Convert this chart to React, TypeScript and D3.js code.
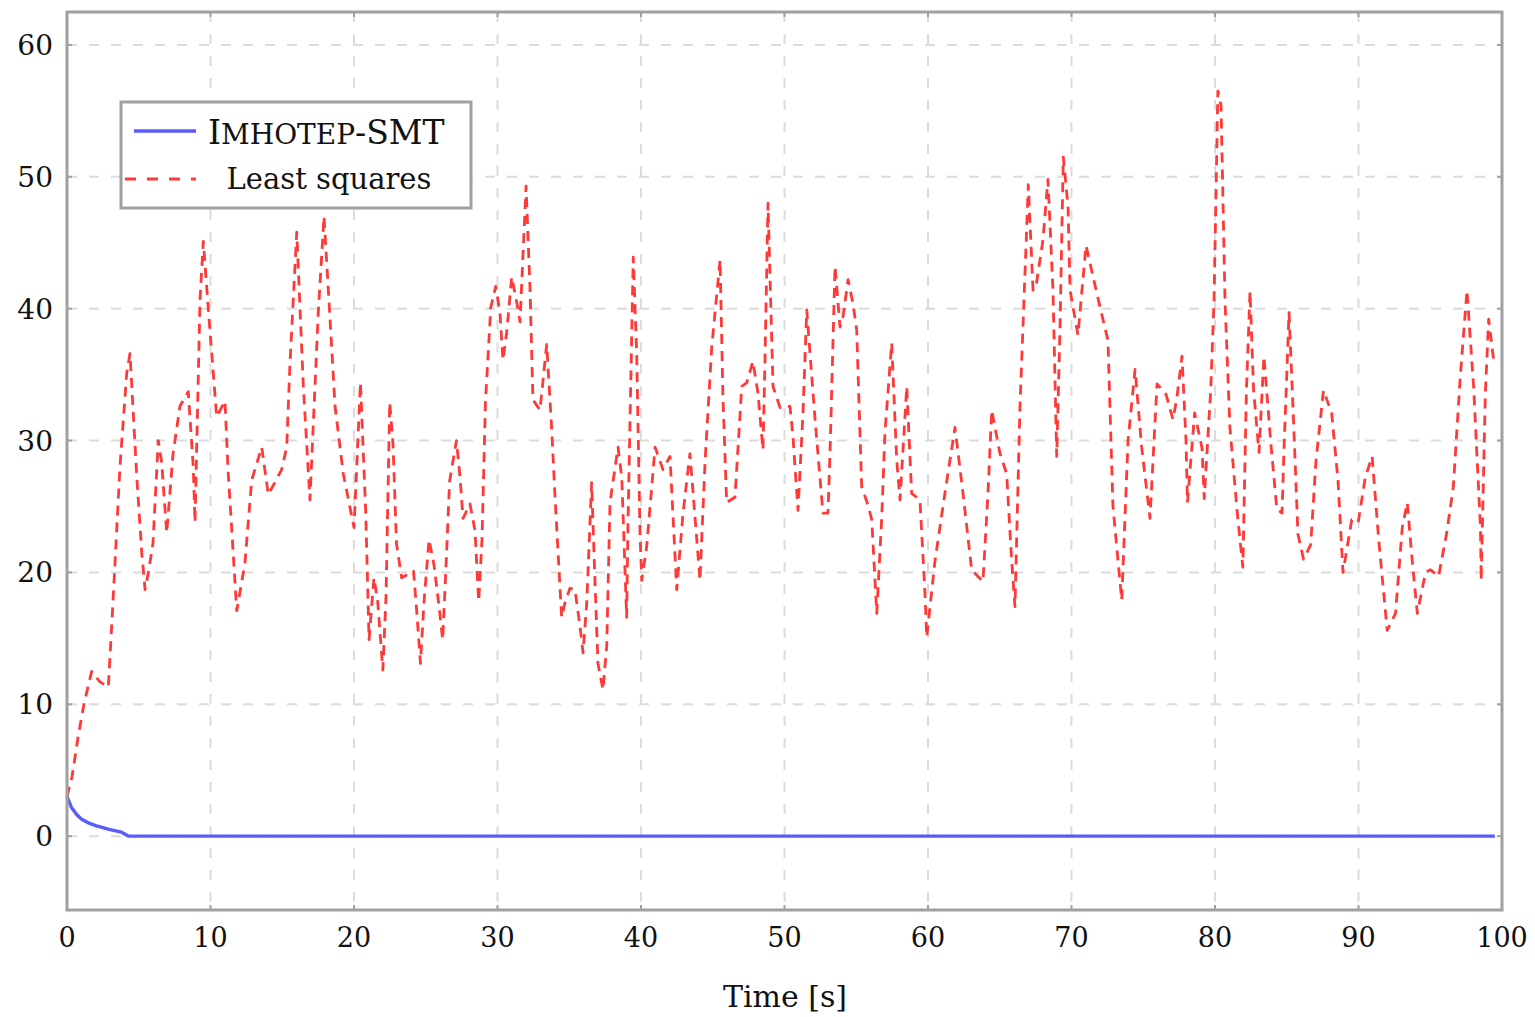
import React from "react";
import * as d3 from "d3";

const xTicks = [0, 10, 20, 30, 40, 50, 60, 70, 80, 90, 100];
const yTicks = [0, 10, 20, 30, 40, 50, 60];

const imhTime = [0, 0.3, 0.7, 1.0, 1.5, 2.0, 3.0, 3.8, 4.3, 99.5];
const imhValue = [3.0, 2.2, 1.6, 1.3, 1.0, 0.8, 0.5, 0.3, 0.0, 0.0];

const lsTime = [
  0, 0.35, 0.77, 1.18, 1.72, 2.3, 2.88, 3.21, 3.69, 4.16, 4.39, 4.86, 5.21, 5.44, 5.67, 5.99, 6.36, 6.6, 6.95, 7.39,
  7.87, 8.45, 8.8, 8.92, 9.27, 9.5, 9.97, 10.43, 11.01, 11.22, 11.83, 12.4, 12.87, 13.57, 14.03, 14.96, 15.31, 15.54, 16.01, 16.47,
  16.93, 17.51, 17.91, 18.33, 18.68, 19.25, 20.0, 20.45, 20.82, 21.05, 21.39, 21.65, 22.01, 22.23, 22.49, 22.72, 22.96, 23.32, 24.15, 24.39,
  24.63, 24.88, 25.23, 25.57, 25.94, 26.18, 26.41, 26.66, 27.14, 27.39, 27.6, 28.08, 28.43, 28.69, 28.92, 29.16, 29.53, 29.88, 30.17, 30.38,
  30.64, 30.99, 31.34, 31.57, 31.99, 32.26, 32.47, 32.96, 33.43, 33.78, 34.01, 34.47, 34.7, 35.05, 35.4, 35.75, 35.96, 36.22, 36.56, 36.79,
  37.0, 37.35, 37.61, 37.84, 38.4, 38.66, 39.0, 39.09, 39.46, 39.7, 39.93, 40.05, 40.4, 40.75, 40.98, 41.53, 42.02, 42.49, 42.93, 43.41,
  43.62, 44.11, 44.46, 44.93, 45.51, 45.71, 45.97, 46.55, 47.02, 47.37, 47.8, 48.15, 48.5, 48.64, 48.85, 49.2, 49.69, 50.38, 50.59, 50.94,
  51.29, 51.55, 51.78, 52.13, 52.68, 53.03, 53.17, 53.52, 53.87, 54.08, 54.43, 54.77, 55.03, 55.38, 55.82, 56.08, 56.43, 56.77, 57.0, 57.47,
  57.82, 58.05, 58.52, 58.86, 59.44, 59.79, 59.91, 60.49, 61.18, 61.88, 62.44, 63.04, 63.83, 64.18, 64.44, 65.02, 65.48, 65.83, 66.06, 66.41,
  66.76, 66.99, 67.32, 67.57, 68.01, 68.36, 68.71, 68.97, 69.2, 69.43, 69.76, 69.9, 70.45, 71.01, 71.76, 72.19, 72.54, 72.89, 73.5, 73.94,
  74.43, 74.89, 75.47, 75.96, 76.59, 77.07, 77.34, 77.7, 77.98, 78.08, 78.58, 79.1, 79.25, 79.7, 79.93, 80.2, 80.42, 80.7, 81.04, 81.57,
  81.94, 82.19, 82.44, 82.69, 83.07, 83.41, 83.9, 84.31, 84.67, 84.81, 85.16, 85.44, 85.78, 86.17, 86.67, 87.04, 87.56, 88.13, 88.57, 88.92,
  89.53, 89.98, 90.47, 90.95, 91.39, 92.0, 92.58, 93.05, 93.4, 93.74, 94.1, 94.67, 95.02, 95.58, 96.15, 96.61, 97.09, 97.56, 98.02, 98.5,
  98.55, 98.84, 99.07, 99.42,
];
const lsValue = [
  3.0, 4.5, 7.5, 10.0, 12.5, 11.7, 11.3, 17.9, 28.0, 35.1, 36.6, 27.3, 21.5, 18.7, 20.0, 22.2, 30.0, 28.3, 23.0, 29.0,
  32.6, 33.7, 28.0, 23.8, 40.7, 45.1, 38.2, 31.8, 33.0, 27.8, 17.1, 20.7, 27.0, 29.5, 25.9, 27.8, 29.5, 35.9, 45.8, 34.1,
  25.5, 39.7, 47.0, 39.2, 32.6, 27.5, 23.4, 34.4, 24.5, 14.9, 19.6, 17.8, 12.6, 18.1, 32.9, 29.7, 22.2, 19.6, 20.1, 16.8,
  13.1, 17.8, 22.5, 20.6, 17.3, 14.9, 20.4, 26.9, 30.0, 27.2, 24.1, 25.2, 23.2, 17.8, 22.5, 32.9, 40.1, 41.7, 39.7, 36.1,
  38.2, 42.4, 40.5, 39.0, 49.3, 41.7, 33.1, 32.3, 37.3, 30.8, 25.7, 16.6, 17.7, 18.8, 18.7, 15.9, 13.9, 17.7, 26.8, 19.4,
  13.1, 11.1, 14.4, 25.3, 29.5, 27.2, 16.6, 23.5, 43.9, 36.6, 23.0, 19.4, 22.0, 26.5, 29.5, 27.8, 28.8, 18.7, 24.5, 29.0,
  26.2, 19.4, 28.3, 37.1, 43.7, 33.3, 25.3, 25.7, 34.1, 34.4, 36.0, 33.6, 29.3, 36.1, 48.0, 34.1, 32.5, 32.6, 30.3, 24.7,
  32.1, 39.9, 36.6, 31.6, 24.5, 24.5, 29.0, 43.2, 38.6, 39.4, 42.2, 40.4, 38.4, 26.5, 25.1, 24.0, 16.9, 24.0, 30.6, 37.4,
  28.5, 25.5, 34.1, 26.0, 25.5, 18.4, 15.1, 20.9, 26.0, 31.0, 26.0, 20.2, 19.3, 26.0, 32.3, 29.0, 27.5, 20.9, 17.4, 32.6,
  42.7, 49.4, 41.4, 42.0, 45.2, 49.8, 41.4, 28.8, 38.6, 51.5, 47.7, 41.4, 38.0, 44.8, 41.2, 39.2, 37.6, 25.0, 17.9, 30.0,
  35.4, 29.5, 24.1, 34.3, 33.5, 31.6, 33.2, 36.4, 30.0, 25.3, 32.1, 29.4, 25.6, 33.8, 40.5, 56.5, 55.4, 40.5, 31.0, 24.3,
  20.4, 33.8, 41.3, 33.8, 29.1, 36.4, 29.7, 24.8, 24.5, 29.4, 39.7, 32.4, 22.9, 21.0, 22.1, 28.5, 33.8, 32.1, 27.0, 20.0,
  24.0, 23.8, 27.2, 28.8, 22.7, 15.6, 16.9, 23.4, 25.3, 20.9, 16.9, 20.0, 20.2, 19.7, 23.0, 26.5, 34.8, 41.4, 34.1, 23.4,
  19.4, 33.6, 39.2, 36.1,
];

const W = 1535;
const H = 1017;
const left = 67;
const right = 1502;
const top = 12;
const bottom = 910;

const FONT = "'DejaVu Serif', 'Liberation Serif', serif";

export default function App() {
  const x = d3.scaleLinear().domain([0, 100]).range([left, right]);
  const y = d3.scaleLinear().domain([-5.6, 62.5]).range([bottom, top]);

  const line = d3
    .line<[number, number]>()
    .x((d) => x(d[0]))
    .y((d) => y(d[1]));

  const lsPts: [number, number][] = lsTime.map((t, i) => [t, lsValue[i]]);
  const imhPts: [number, number][] = imhTime.map((t, i) => [t, imhValue[i]]);

  const gridColor = "#dcdcdc";
  const axisColor = "#a0a0a0";
  const blue = "#5a5aff";
  const red = "#ff3838";

  return (
    <svg
      width={W}
      height={H}
      style={{ position: "absolute", left: 0, top: 0, background: "#fff" }}
    >
      <rect x={0} y={0} width={W} height={H} fill="#fff" />
      {/* grid */}
      <g>
        {xTicks.map((t) => (
          <line
            key={"gx" + t}
            x1={x(t)}
            x2={x(t)}
            y1={top}
            y2={bottom}
            stroke={gridColor}
            strokeWidth={2}
            strokeDasharray="10 12"
          />
        ))}
        {yTicks.map((t) => (
          <line
            key={"gy" + t}
            x1={left}
            x2={right}
            y1={y(t)}
            y2={y(t)}
            stroke={gridColor}
            strokeWidth={2}
            strokeDasharray="10 12"
          />
        ))}
      </g>

      {/* data */}
      <path
        d={line(lsPts) || ""}
        fill="none"
        stroke={red}
        strokeWidth={2.8}
        strokeDasharray="10 7"
        strokeLinejoin="round"
      />
      <path
        d={line(imhPts) || ""}
        fill="none"
        stroke={blue}
        strokeWidth={3.4}
        strokeLinejoin="round"
      />

      {/* frame */}
      <rect
        x={left}
        y={top}
        width={right - left}
        height={bottom - top}
        fill="none"
        stroke={axisColor}
        strokeWidth={3}
      />
      {/* ticks */}
      {xTicks.map((t) => (
        <g key={"tx" + t}>
          <line x1={x(t)} x2={x(t)} y1={bottom} y2={bottom - 5} stroke={axisColor} strokeWidth={2} />
          <line x1={x(t)} x2={x(t)} y1={top} y2={top + 5} stroke={axisColor} strokeWidth={2} />
        </g>
      ))}
      {yTicks.map((t) => (
        <g key={"ty" + t}>
          <line x1={left} x2={left + 5} y1={y(t)} y2={y(t)} stroke={axisColor} strokeWidth={2} />
          <line x1={right} x2={right - 5} y1={y(t)} y2={y(t)} stroke={axisColor} strokeWidth={2} />
        </g>
      ))}

      {/* tick labels */}
      {xTicks.map((t) => (
        <text
          key={"lx" + t}
          x={x(t)}
          y={947}
          textAnchor="middle"
          fontFamily={FONT}
          fontSize={27}
          fill="#111"
        >
          {t}
        </text>
      ))}
      {yTicks.map((t) => (
        <text
          key={"ly" + t}
          x={53}
          y={y(t) + 10}
          textAnchor="end"
          fontFamily={FONT}
          fontSize={28}
          fill="#111"
        >
          {t}
        </text>
      ))}

      <text
        x={785}
        y={1007}
        textAnchor="middle"
        fontFamily={FONT}
        fontSize={30}
        fill="#111"
      >
        Time [s]
      </text>

      {/* legend */}
      <g>
        <rect x={121} y={102} width={350} height={106} fill="#fff" stroke={axisColor} strokeWidth={3} />
        <line x1={134} x2={196} y1={131} y2={131} stroke={blue} strokeWidth={3.4} />
        <line x1={125} x2={196} y1={179} y2={179} stroke={red} strokeWidth={2.8} strokeDasharray="11 11" />
        <text x={208} y={144} fontFamily={FONT} fontSize={33} fill="#111">
          <tspan>I</tspan>
          <tspan fontSize={28}>MHOTEP</tspan>
          <tspan>-SMT</tspan>
        </text>
        <text x={329} y={189} textAnchor="middle" fontFamily={FONT} fontSize={29} fill="#111">
          Least squares
        </text>
      </g>
    </svg>
  );
}
